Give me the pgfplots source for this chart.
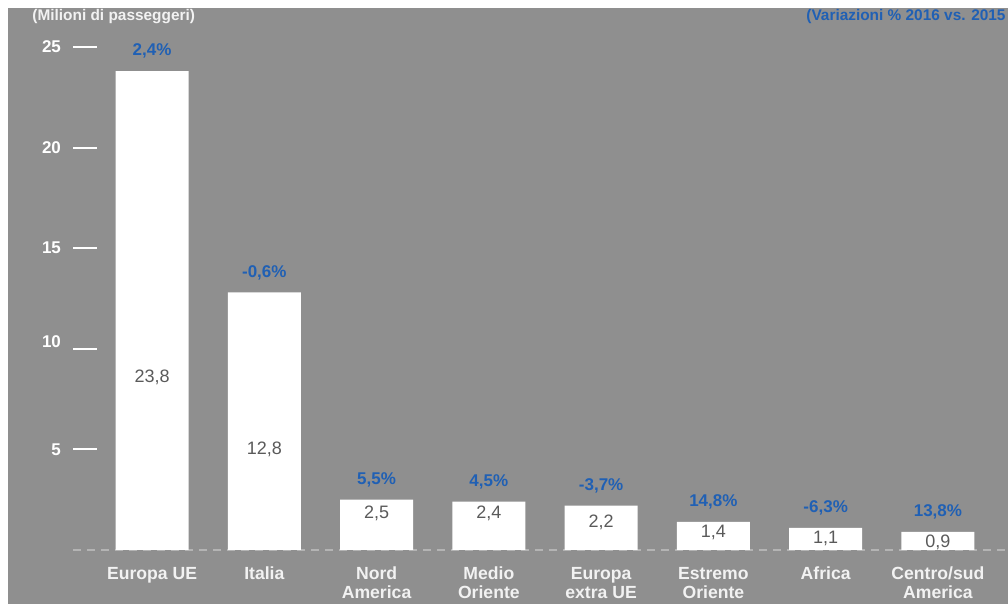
\documentclass[border=0pt]{standalone}
\usepackage{fontspec}
\setmainfont{Liberation Sans}
\usepackage{pgfplots}
\usepackage{pgfplotstable}
\pgfplotsset{compat=1.18}
\definecolor{bggray}{RGB}{143,143,143}
\definecolor{pctblue}{RGB}{32,96,180}
\definecolor{valgray}{RGB}{90,90,90}
\definecolor{catwhite}{RGB}{242,242,242}
\definecolor{basegray}{RGB}{180,180,180}
\pgfplotstableread{
x y pct val vpos
0 23.8 2,4 23,8 8.56
1 12.8 -0,6 12,8 5.0
2 2.5 5,5 2,5 1.84
3 2.4 4,5 2,4 1.80
4 2.2 -3,7 2,2 1.39
5 1.4 14,8 1,4 0.85
6 1.1 -6,3 1,1 0.55
7 0.9 13,8 0,9 0.40
}\data
\begin{document}
\begin{tikzpicture}
\fill[bggray] (4pt,0pt) rectangle (504pt,298pt);
\begin{axis}[
  at={(36.5pt,27pt)}, anchor=south west,
  scale only axis, width=467.5pt, height=251.5pt,
  xmin=-0.704, xmax=7.624, ymin=0, ymax=25,
  axis line style={draw=none},
  clip=false,
  xtick={0,...,7},
  xticklabels={Europa UE, Italia, Nord\\America, Medio\\Oriente, Europa\\extra UE, Estremo\\Oriente, Africa, Centro/sud\\America},
  xticklabel style={align=center, text=catwhite, font=\fontsize{8.8}{9.5}\selectfont\bfseries, yshift=-5pt},
  xtick style={draw=none},
  ytick={5,10,15,20,25},
  yticklabels={5,{\raisebox{7pt}{10}},15,20,25},
  ytick pos=left,
  tick align=inside,
  major tick length=12pt,
  ytick style={draw=white, line width=1pt},
  yticklabel style={text=white, font=\fontsize{8.5}{10}\selectfont\bfseries, xshift=-2.5pt},
]
\draw[draw=basegray, dash pattern=on 4pt off 3pt, line width=0.7pt] (rel axis cs:0,0) -- (rel axis cs:1,0);
\addplot[ybar, bar width=36.5pt, bar shift=0pt, fill=white, draw=none,
  nodes near coords={\pgfplotspointmeta\%},
  point meta=explicit symbolic,
  nodes near coords style={anchor=center, yshift=10pt, text=pctblue, font=\fontsize{8.5}{10}\selectfont\bfseries}]
  table[x=x, y=y, meta=pct] {\data};
\addplot[draw=none, mark=none,
  nodes near coords,
  point meta=explicit symbolic,
  nodes near coords style={anchor=center, text=valgray, font=\fontsize{9}{10}\selectfont}]
  table[x=x, y=vpos, meta=val] {\data};
\end{axis}
\node[anchor=west, text=catwhite, font=\fontsize{7.7}{9}\selectfont\bfseries, inner sep=0pt] at (16pt,293.5pt) {(Milioni di passeggeri)};
\node[anchor=west, text=pctblue, font=\fontsize{7.7}{9}\selectfont\bfseries, inner sep=0pt] at (403pt,293.5pt) {(Variazioni \% 2016 vs. 2015};
\pgfresetboundingbox
\useasboundingbox (0,0) rectangle (504pt,302pt);
\end{tikzpicture}
\end{document}
